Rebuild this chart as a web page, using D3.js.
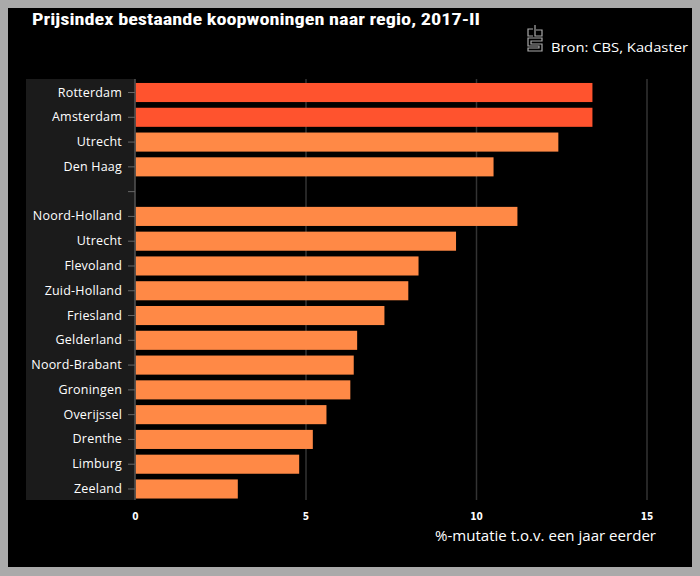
<!DOCTYPE html>
<html><head><meta charset="utf-8">
<script src="https://cdn.jsdelivr.net/npm/d3@7"></script>
<style>
html,body{margin:0;padding:0;background:#aaaaaa;}
svg{display:block;}
</style></head>
<body>
<script>
const categories = ["Rotterdam","Amsterdam","Utrecht","Den Haag","","Noord-Holland","Utrecht ","Flevoland","Zuid-Holland","Friesland","Gelderland","Noord-Brabant","Groningen","Overijssel","Drenthe","Limburg","Zeeland"];
const values = [13.4,13.4,12.4,10.5,null,11.2,9.4,8.3,8.0,7.3,6.5,6.4,6.3,5.6,5.2,4.8,3.0];
const highlight = [true,true,false,false,false,false,false,false,false,false,false,false,false,false,false,false,false];
const xTicks = [0,5,10,15];
const title = "Prijsindex bestaande koopwoningen naar regio, 2017-II";
const source = "Bron: CBS, Kadaster";
const xLabel = "%-mutatie t.o.v. een jaar eerder";

const W = 700, H = 576;
const svg = d3.select("body").append("svg").attr("width", W).attr("height", H);
svg.append("rect").attr("width", W).attr("height", H).attr("fill", "#aaaaaa");
svg.append("rect").attr("x", 8).attr("y", 8).attr("width", 684).attr("height", 559).attr("fill", "#000");

const x = d3.scaleLinear().domain([0, 15]).range([135.5, 647]);
const y = d3.scaleBand().domain(categories).range([80, 501.5]).paddingInner(0.23).paddingOuter(0.12);

// label panel
svg.append("rect").attr("x", 26).attr("y", 79).attr("width", 109).attr("height", 421).attr("fill", "#1b1b1b");

// gridlines
svg.append("g").selectAll("line").data(xTicks.filter(d => d > 0)).join("line")
  .attr("x1", d => x(d)).attr("x2", d => x(d)).attr("y1", 79).attr("y2", 500)
  .attr("stroke", "#333").attr("stroke-width", 1.5);

// bars
svg.append("g").selectAll("rect").data(categories.map((c, i) => ({c, v: values[i], h: highlight[i]})).filter(d => d.v != null)).join("rect")
  .attr("x", x(0)).attr("y", d => y(d.c)).attr("width", d => x(d.v) - x(0)).attr("height", y.bandwidth())
  .attr("fill", d => d.h ? "#ff532e" : "#ff8946");

// y axis
const yAxis = svg.append("g").attr("transform", `translate(${x(0) - 0.5},0)`)
  .call(d3.axisLeft(y).tickSize(7).tickPadding(6).tickFormat(d => d.trim()));
yAxis.select(".domain").attr("stroke", "#555").attr("stroke-width", 1.5).attr("d", "M0,79V500");
yAxis.selectAll(".tick line").attr("stroke", "#666");
yAxis.selectAll("text").attr("fill", "#fff").style("font-family", "'Open Sans', sans-serif").style("font-size", "12.5px").style("letter-spacing", "0.2px");

// x ticks labels
svg.append("g").selectAll("text").data(xTicks).join("text")
  .attr("x", d => x(d)).attr("y", 520).attr("text-anchor", "middle")
  .attr("fill", "#fff").style("font-family", "'DejaVu Sans Condensed', 'DejaVu Sans', sans-serif").style("font-size", "10px").style("font-weight", "bold")
  .text(d => d);

svg.append("text").attr("x", 656).attr("y", 541).attr("text-anchor", "end")
  .attr("fill", "#fff").style("font-family", "'Open Sans', sans-serif").style("font-size", "14px")
  .attr("textLength", 221).attr("lengthAdjust", "spacingAndGlyphs")
  .text(xLabel);

// title
svg.append("text").attr("x", 32).attr("y", 25)
  .attr("fill", "#fff").style("font-family", "'Roboto Condensed', 'Liberation Sans Narrow', 'DejaVu Sans Condensed', sans-serif")
  .style("font-size", "16.5px").style("font-weight", "bold").attr("textLength", 448).attr("lengthAdjust", "spacingAndGlyphs")
  .text(title);

// source
svg.append("text").attr("x", 688).attr("y", 52).attr("text-anchor", "end")
  .attr("fill", "#fff").style("font-family", "'Open Sans', sans-serif").style("font-size", "13px")
  .attr("textLength", 137).attr("lengthAdjust", "spacingAndGlyphs")
  .text(source);

// cbs logo (simple outline)
const logo = svg.append("g").attr("transform", "translate(527,24)").attr("fill", "none").attr("stroke", "#aaa").attr("stroke-width", 1.2);
logo.append("path").attr("d", "M6,5 H1 V12 H6 M8,1 V12 H15 V6 H9");
logo.append("path").attr("d", "M2,14 H15 V17 H4 V20 H15 V27 H1 V24 H12 V22 H1 V14 Z");
</script>
</body></html>
